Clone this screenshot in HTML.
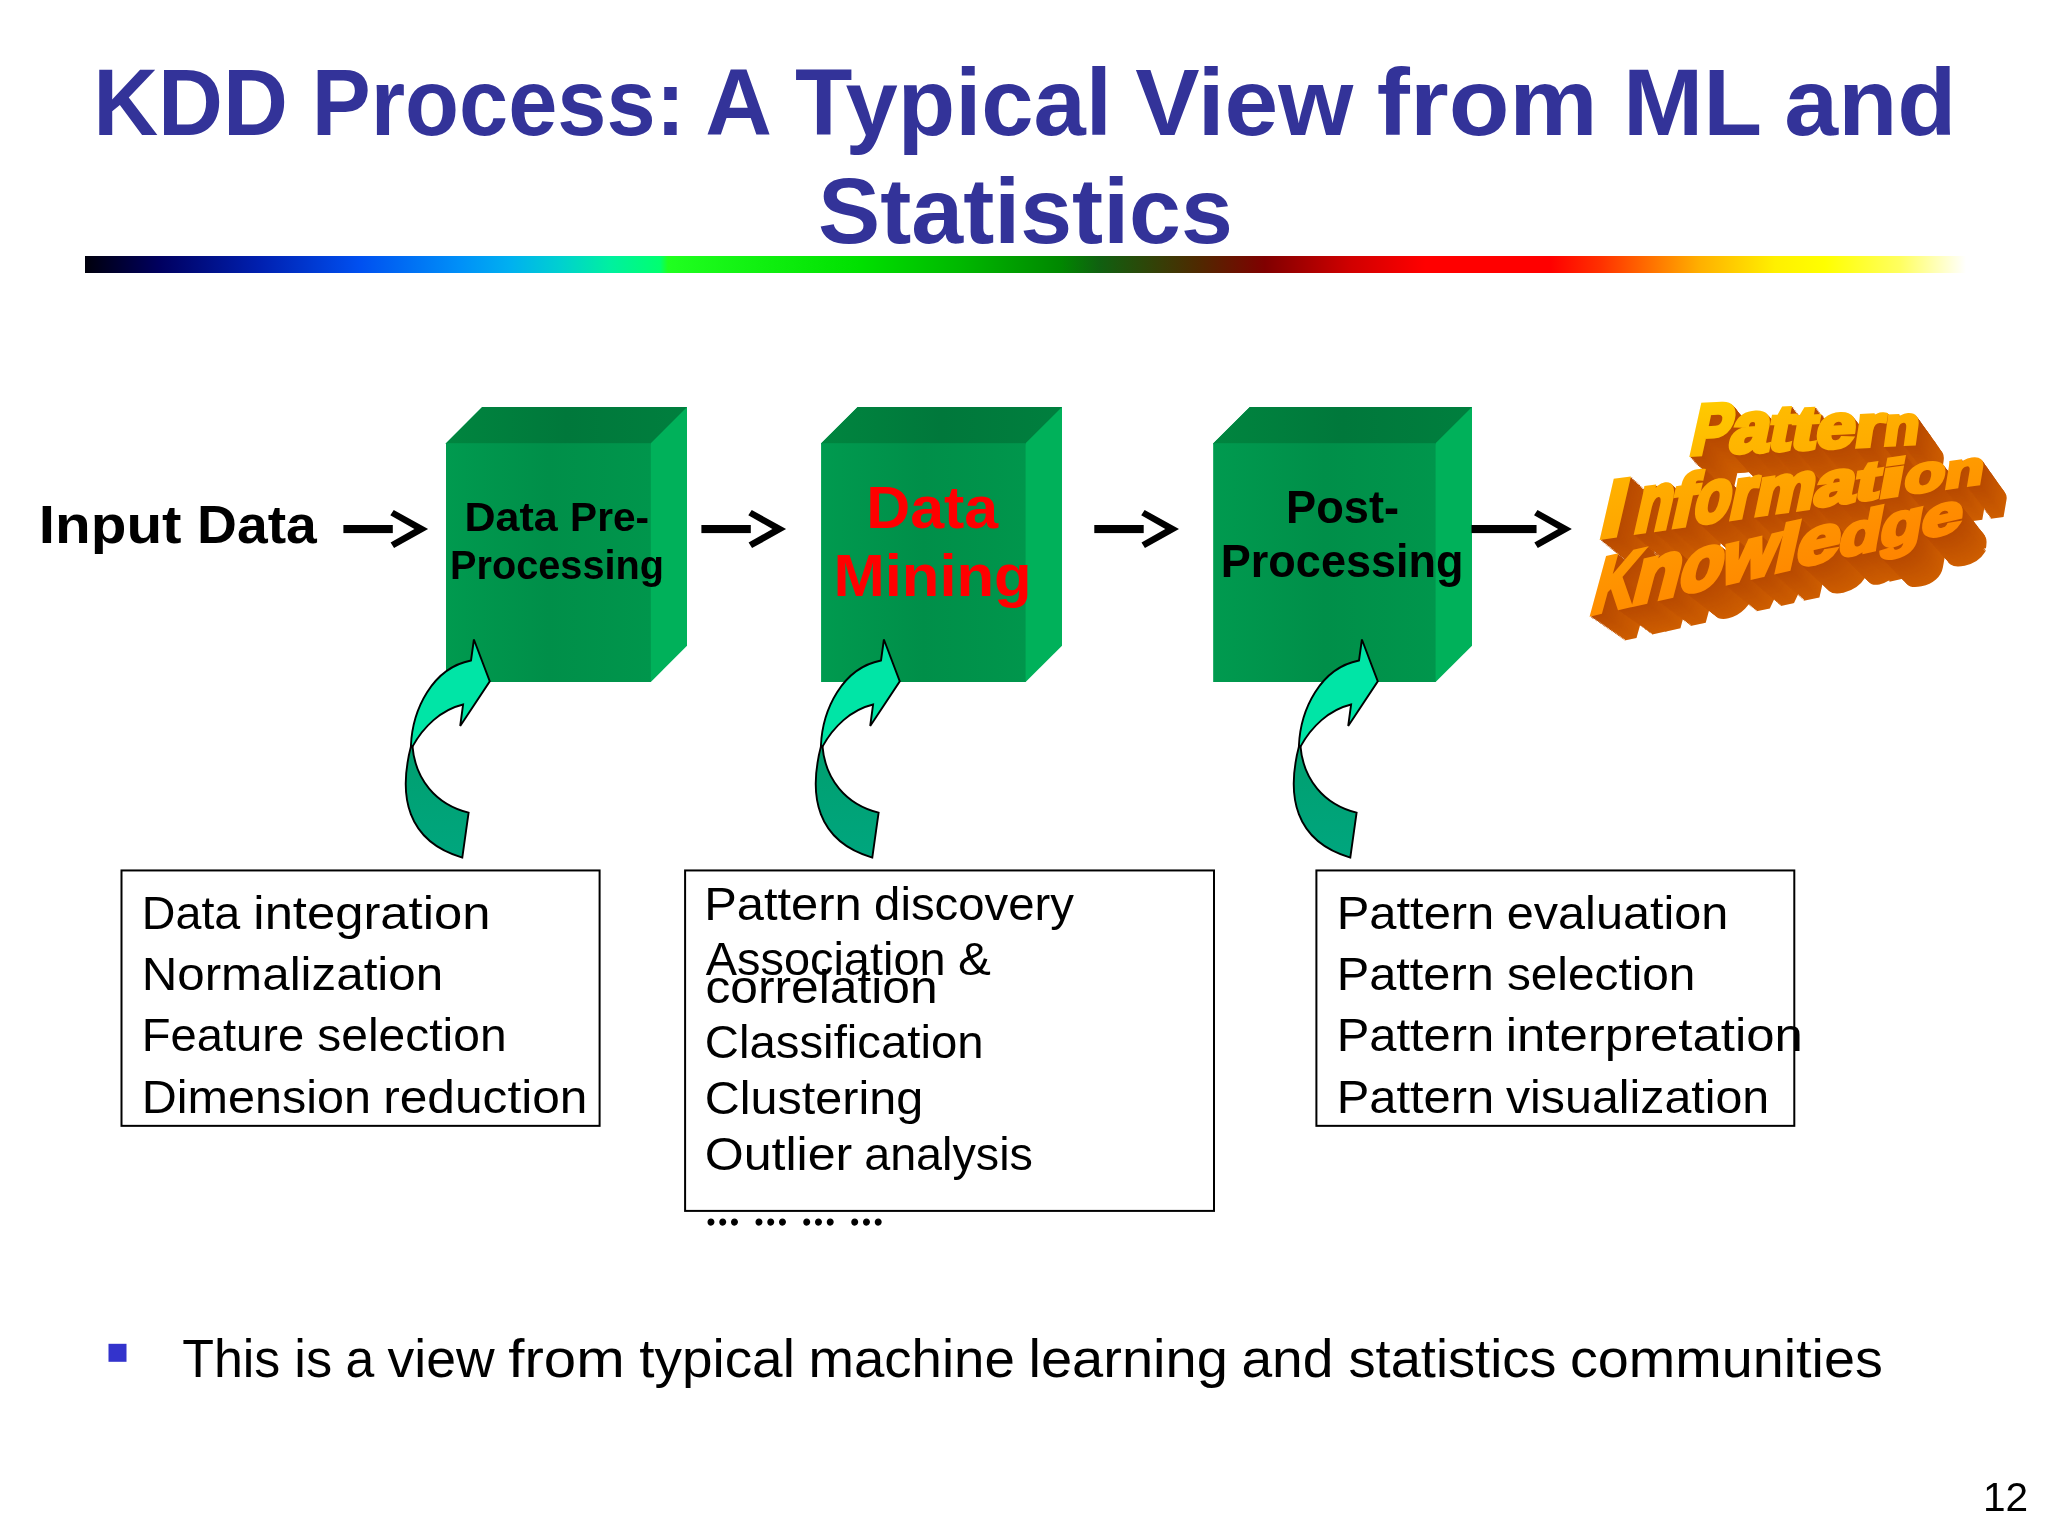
<!DOCTYPE html>
<html lang="en"><head><meta charset="utf-8"><title>KDD Process: A Typical View from ML and Statistics</title>
<style>html,body{margin:0;padding:0;background:#fff;}body{width:2048px;height:1536px;position:relative;overflow:hidden;font-family:"Liberation Sans",sans-serif;}#main{position:absolute;left:0;top:0;display:block;will-change:transform;}</style></head>
<body>
<svg id="main" width="2048" height="1536" viewBox="0 0 2048 1536" font-family="&quot;Liberation Sans&quot;, sans-serif">
<defs><linearGradient id="rb" gradientUnits="userSpaceOnUse" x1="85" y1="0" x2="1966" y2="0"><stop offset="0.0000" stop-color="#00000c"/><stop offset="0.0399" stop-color="#000060"/><stop offset="0.0930" stop-color="#0020b0"/><stop offset="0.1462" stop-color="#0050f0"/><stop offset="0.1994" stop-color="#0090f8"/><stop offset="0.2259" stop-color="#00b0f0"/><stop offset="0.2525" stop-color="#00d0d0"/><stop offset="0.2791" stop-color="#00f0a0"/><stop offset="0.3057" stop-color="#00ff70"/><stop offset="0.3099" stop-color="#20ff20"/><stop offset="0.3589" stop-color="#10f010"/><stop offset="0.4120" stop-color="#00e000"/><stop offset="0.4652" stop-color="#00b800"/><stop offset="0.5183" stop-color="#008800"/><stop offset="0.5396" stop-color="#106010"/><stop offset="0.5928" stop-color="#502800"/><stop offset="0.6273" stop-color="#800000"/><stop offset="0.6725" stop-color="#d00000"/><stop offset="0.7124" stop-color="#ff0000"/><stop offset="0.7788" stop-color="#ff0000"/><stop offset="0.8054" stop-color="#ff3000"/><stop offset="0.8320" stop-color="#ff7000"/><stop offset="0.8586" stop-color="#ffb000"/><stop offset="0.8985" stop-color="#fff000"/><stop offset="0.9250" stop-color="#ffff00"/><stop offset="0.9649" stop-color="#ffff60"/><stop offset="1.0000" stop-color="#ffffff"/></linearGradient><linearGradient id="cf0" gradientUnits="userSpaceOnUse" x1="446.0" y1="0" x2="650.8" y2="0"><stop offset="0" stop-color="#009a4f"/><stop offset="0.5" stop-color="#008f49"/><stop offset="1" stop-color="#00964c"/></linearGradient><linearGradient id="ct0" gradientUnits="userSpaceOnUse" x1="446.0" y1="0" x2="687.0" y2="0"><stop offset="0" stop-color="#00853f"/><stop offset="0.5" stop-color="#00783b"/><stop offset="1" stop-color="#007f3e"/></linearGradient><linearGradient id="cf1" gradientUnits="userSpaceOnUse" x1="821.25" y1="0" x2="1025.6" y2="0"><stop offset="0" stop-color="#009a4f"/><stop offset="0.5" stop-color="#008f49"/><stop offset="1" stop-color="#00964c"/></linearGradient><linearGradient id="ct1" gradientUnits="userSpaceOnUse" x1="821.25" y1="0" x2="1062.0" y2="0"><stop offset="0" stop-color="#00853f"/><stop offset="0.5" stop-color="#00783b"/><stop offset="1" stop-color="#007f3e"/></linearGradient><linearGradient id="cf2" gradientUnits="userSpaceOnUse" x1="1213.4" y1="0" x2="1435.6" y2="0"><stop offset="0" stop-color="#009a4f"/><stop offset="0.5" stop-color="#008f49"/><stop offset="1" stop-color="#00964c"/></linearGradient><linearGradient id="ct2" gradientUnits="userSpaceOnUse" x1="1213.4" y1="0" x2="1472.0" y2="0"><stop offset="0" stop-color="#00853f"/><stop offset="0.5" stop-color="#00783b"/><stop offset="1" stop-color="#007f3e"/></linearGradient><linearGradient id="cvl" gradientUnits="userSpaceOnUse" x1="0" y1="746" x2="0" y2="858"><stop offset="0" stop-color="#009f6f"/><stop offset="1" stop-color="#00a67e"/></linearGradient><linearGradient id="wl0" x1="0" y1="0" x2="0" y2="1"><stop offset="0" stop-color="rgb(255,206,0)"/><stop offset="1" stop-color="rgb(255,180,0)"/></linearGradient><linearGradient id="wl1" x1="0" y1="0" x2="0" y2="1"><stop offset="0" stop-color="rgb(255,193,0)"/><stop offset="1" stop-color="rgb(255,177,0)"/></linearGradient><linearGradient id="wl2" x1="0" y1="0" x2="0" y2="1"><stop offset="0" stop-color="rgb(255,190,0)"/><stop offset="1" stop-color="rgb(255,175,0)"/></linearGradient><linearGradient id="wl3" x1="0" y1="0" x2="0" y2="1"><stop offset="0" stop-color="rgb(255,188,0)"/><stop offset="1" stop-color="rgb(255,173,0)"/></linearGradient><linearGradient id="wl4" x1="0" y1="0" x2="0" y2="1"><stop offset="0" stop-color="rgb(255,185,0)"/><stop offset="1" stop-color="rgb(255,171,0)"/></linearGradient><linearGradient id="wl5" x1="0" y1="0" x2="0" y2="1"><stop offset="0" stop-color="rgb(255,182,0)"/><stop offset="1" stop-color="rgb(255,169,0)"/></linearGradient><linearGradient id="wl6" x1="0" y1="0" x2="0" y2="1"><stop offset="0" stop-color="rgb(255,178,0)"/><stop offset="1" stop-color="rgb(255,166,0)"/></linearGradient><linearGradient id="wl7" x1="0" y1="0" x2="0" y2="1"><stop offset="0" stop-color="rgb(255,181,0)"/><stop offset="1" stop-color="rgb(255,162,0)"/></linearGradient><linearGradient id="wl8" x1="0" y1="0" x2="0" y2="1"><stop offset="0" stop-color="rgb(255,178,0)"/><stop offset="1" stop-color="rgb(255,160,0)"/></linearGradient><linearGradient id="wl9" x1="0" y1="0" x2="0" y2="1"><stop offset="0" stop-color="rgb(255,176,0)"/><stop offset="1" stop-color="rgb(255,159,0)"/></linearGradient><linearGradient id="wl10" x1="0" y1="0" x2="0" y2="1"><stop offset="0" stop-color="rgb(255,174,0)"/><stop offset="1" stop-color="rgb(255,158,0)"/></linearGradient><linearGradient id="wl11" x1="0" y1="0" x2="0" y2="1"><stop offset="0" stop-color="rgb(255,172,0)"/><stop offset="1" stop-color="rgb(255,156,0)"/></linearGradient><linearGradient id="wl12" x1="0" y1="0" x2="0" y2="1"><stop offset="0" stop-color="rgb(255,170,0)"/><stop offset="1" stop-color="rgb(255,155,0)"/></linearGradient><linearGradient id="wl13" x1="0" y1="0" x2="0" y2="1"><stop offset="0" stop-color="rgb(255,166,0)"/><stop offset="1" stop-color="rgb(255,152,0)"/></linearGradient><linearGradient id="wl14" x1="0" y1="0" x2="0" y2="1"><stop offset="0" stop-color="rgb(255,164,0)"/><stop offset="1" stop-color="rgb(255,151,0)"/></linearGradient><linearGradient id="wl15" x1="0" y1="0" x2="0" y2="1"><stop offset="0" stop-color="rgb(255,162,0)"/><stop offset="1" stop-color="rgb(255,150,0)"/></linearGradient><linearGradient id="wl16" x1="0" y1="0" x2="0" y2="1"><stop offset="0" stop-color="rgb(255,160,0)"/><stop offset="1" stop-color="rgb(255,149,0)"/></linearGradient><linearGradient id="wl17" x1="0" y1="0" x2="0" y2="1"><stop offset="0" stop-color="rgb(255,158,0)"/><stop offset="1" stop-color="rgb(255,147,0)"/></linearGradient><linearGradient id="wl18" x1="0" y1="0" x2="0" y2="1"><stop offset="0" stop-color="rgb(255,156,0)"/><stop offset="1" stop-color="rgb(255,138,0)"/></linearGradient><linearGradient id="wl19" x1="0" y1="0" x2="0" y2="1"><stop offset="0" stop-color="rgb(255,155,0)"/><stop offset="1" stop-color="rgb(255,137,0)"/></linearGradient><linearGradient id="wl20" x1="0" y1="0" x2="0" y2="1"><stop offset="0" stop-color="rgb(255,153,0)"/><stop offset="1" stop-color="rgb(255,136,0)"/></linearGradient><linearGradient id="wl21" x1="0" y1="0" x2="0" y2="1"><stop offset="0" stop-color="rgb(255,152,0)"/><stop offset="1" stop-color="rgb(255,136,0)"/></linearGradient><linearGradient id="wl22" x1="0" y1="0" x2="0" y2="1"><stop offset="0" stop-color="rgb(255,151,0)"/><stop offset="1" stop-color="rgb(255,135,0)"/></linearGradient><linearGradient id="wl23" x1="0" y1="0" x2="0" y2="1"><stop offset="0" stop-color="rgb(255,150,0)"/><stop offset="1" stop-color="rgb(255,135,0)"/></linearGradient><linearGradient id="wl24" x1="0" y1="0" x2="0" y2="1"><stop offset="0" stop-color="rgb(255,148,0)"/><stop offset="1" stop-color="rgb(255,134,0)"/></linearGradient><linearGradient id="wl25" x1="0" y1="0" x2="0" y2="1"><stop offset="0" stop-color="rgb(255,147,0)"/><stop offset="1" stop-color="rgb(255,133,0)"/></linearGradient><linearGradient id="wl26" x1="0" y1="0" x2="0" y2="1"><stop offset="0" stop-color="rgb(255,146,0)"/><stop offset="1" stop-color="rgb(255,133,0)"/></linearGradient><g id="waS"><text transform="matrix(0.5921,-0.0279,-0.1584,0.7160,1687.96,454.50)">P</text><text transform="matrix(0.7060,-0.0333,-0.1498,0.7204,1727.14,452.65)">a</text><text transform="matrix(0.6758,-0.0319,-0.1257,0.6397,1766.49,450.79)">t</text><text transform="matrix(0.7516,-0.0354,-0.1146,0.6139,1788.78,449.74)">t</text><text transform="matrix(0.6978,-0.0329,-0.1067,0.6198,1813.96,448.55)">e</text><text transform="matrix(0.7435,-0.0351,-0.0899,0.5805,1852.64,446.73)">r</text><text transform="matrix(0.5827,-0.0275,-0.0738,0.5430,1882.02,445.35)">n</text><text transform="matrix(0.8014,-0.1129,-0.1865,0.8068,1597.86,537.45)">I</text><text transform="matrix(0.5907,-0.0832,-0.1859,0.8199,1632.22,532.61)">n</text><text transform="matrix(0.6917,-0.0974,-0.1645,0.7368,1668.03,527.57)">f</text><text transform="matrix(0.5907,-0.0832,-0.1661,0.7569,1691.34,524.28)">o</text><text transform="matrix(0.6412,-0.0903,-0.1559,0.7243,1727.29,519.22)">r</text><text transform="matrix(0.6735,-0.0948,-0.1417,0.6791,1752.15,515.72)">m</text><text transform="matrix(0.7386,-0.1040,-0.1248,0.6253,1811.85,507.31)">a</text><text transform="matrix(0.7262,-0.1023,-0.1065,0.5519,1852.96,501.52)">t</text><text transform="matrix(0.8981,-0.1265,-0.0988,0.5274,1876.68,498.18)">i</text><text transform="matrix(0.6662,-0.0938,-0.0947,0.5293,1902.27,494.58)">o</text><text transform="matrix(0.6410,-0.0903,-0.0814,0.4867,1943.03,488.84)">n</text><text transform="matrix(0.5750,-0.1302,-0.2183,0.8010,1588.61,614.30)">K</text><text transform="matrix(0.7620,-0.1725,-0.2140,0.8187,1629.62,605.01)">n</text><text transform="matrix(0.6962,-0.1576,-0.1943,0.7798,1676.35,594.43)">o</text><text transform="matrix(0.6874,-0.1556,-0.1730,0.7379,1718.90,584.80)">w</text><text transform="matrix(0.7834,-0.1774,-0.1460,0.6590,1772.10,572.75)">l</text><text transform="matrix(0.7660,-0.1734,-0.1420,0.6770,1793.91,567.81)">e</text><text transform="matrix(0.6798,-0.1539,-0.1152,0.5984,1836.75,558.11)">d</text><text transform="matrix(0.6798,-0.1539,-0.1049,0.6041,1878.27,548.71)">g</text><text transform="matrix(0.7299,-0.1652,-0.0866,0.5682,1919.66,539.34)">e</text></g></defs>
<rect x="85" y="256" width="1881" height="17" fill="url(#rb)"/>
<polygon points="446.0,443.2 482.20000000000005,407.0 687.0,407.0 687.0,645.8 650.8,682.0 446.0,682.0" fill="#00b15a"/><polygon points="446.0,444.2 446.0,443.2 482.20000000000005,407.0 687.0,407.0 650.8,443.2 650.8,444.2" fill="url(#ct0)"/><rect x="446.0" y="443.2" width="204.79999999999995" height="238.8" fill="url(#cf0)"/><polygon points="821.25,443.2 857.6500000000001,407.0 1062.0,407.0 1062.0,645.8 1025.6,682.0 821.25,682.0" fill="#00b15a"/><polygon points="821.25,444.2 821.25,443.2 857.6500000000001,407.0 1062.0,407.0 1025.6,443.2 1025.6,444.2" fill="url(#ct1)"/><rect x="821.25" y="443.2" width="204.3499999999999" height="238.8" fill="url(#cf1)"/><polygon points="1213.4,443.2 1249.8000000000002,407.0 1472.0,407.0 1472.0,645.8 1435.6,682.0 1213.4,682.0" fill="#00b15a"/><polygon points="1213.4,444.2 1213.4,443.2 1249.8000000000002,407.0 1472.0,407.0 1435.6,443.2 1435.6,444.2" fill="url(#ct2)"/><rect x="1213.4" y="443.2" width="222.19999999999982" height="238.8" fill="url(#cf2)"/>
<g transform="translate(0,0)"><rect x="343.4" y="525" width="49.400000000000034" height="8.1" fill="#000"/><polygon points="393.75,510 428.1,529.05 394.05,548.1 390.6,542.5 414.4,529.05 390.3,515.3" fill="#000"/></g><g transform="translate(358.0,0)"><rect x="343.4" y="525" width="49.400000000000034" height="8.1" fill="#000"/><polygon points="393.75,510 428.1,529.05 394.05,548.1 390.6,542.5 414.4,529.05 390.3,515.3" fill="#000"/></g><g transform="translate(750.9,0)"><rect x="343.4" y="525" width="49.400000000000034" height="8.1" fill="#000"/><polygon points="393.75,510 428.1,529.05 394.05,548.1 390.6,542.5 414.4,529.05 390.3,515.3" fill="#000"/></g><g transform="translate(1143.75,0)"><rect x="327.75" y="525" width="65.05000000000001" height="8.1" fill="#000"/><polygon points="393.75,510 428.1,529.05 394.05,548.1 390.6,542.5 414.4,529.05 390.3,515.3" fill="#000"/></g>
<g transform="translate(0,0)" stroke="#000" stroke-width="1.9" stroke-linejoin="miter"><path d="M411.3,745.1 C397.9,795.7 406.5,841.2 462.3,857.6 L468.6,812.6 C435.7,804.5 415,779 412.4,745.6 Z" fill="url(#cvl)"/><path d="M471,660.5 L473.9,639.5 L489.8,681.4 L460.2,726 L463.1,704.5 C440.9,709.8 423.3,726.9 412.6,746.4 L410.9,745.9 C412.4,709.8 432.2,668 471,660.5 Z" fill="#00e5a6"/></g><g transform="translate(410,0)" stroke="#000" stroke-width="1.9" stroke-linejoin="miter"><path d="M411.3,745.1 C397.9,795.7 406.5,841.2 462.3,857.6 L468.6,812.6 C435.7,804.5 415,779 412.4,745.6 Z" fill="url(#cvl)"/><path d="M471,660.5 L473.9,639.5 L489.8,681.4 L460.2,726 L463.1,704.5 C440.9,709.8 423.3,726.9 412.6,746.4 L410.9,745.9 C412.4,709.8 432.2,668 471,660.5 Z" fill="#00e5a6"/></g><g transform="translate(888,0)" stroke="#000" stroke-width="1.9" stroke-linejoin="miter"><path d="M411.3,745.1 C397.9,795.7 406.5,841.2 462.3,857.6 L468.6,812.6 C435.7,804.5 415,779 412.4,745.6 Z" fill="url(#cvl)"/><path d="M471,660.5 L473.9,639.5 L489.8,681.4 L460.2,726 L463.1,704.5 C440.9,709.8 423.3,726.9 412.6,746.4 L410.9,745.9 C412.4,709.8 432.2,668 471,660.5 Z" fill="#00e5a6"/></g>
<rect x="121.5" y="870.45" width="478.1" height="255.39999999999986" fill="none" stroke="#000" stroke-width="2"/><rect x="685.1" y="870.45" width="528.9" height="340.45000000000005" fill="none" stroke="#000" stroke-width="2"/><rect x="1316.4" y="870.45" width="477.89999999999986" height="255.39999999999986" fill="none" stroke="#000" stroke-width="2"/>
<rect x="108.5" y="1343.8" width="18" height="18" fill="#3333cc"/>
<text y="135" font-size="94.26" font-weight="bold" fill="#333399" lengthAdjust="spacingAndGlyphs" xml:space="preserve"><tspan x="93.13" textLength="194.75" lengthAdjust="spacingAndGlyphs">KDD</tspan> <tspan x="311.77" textLength="373.31" lengthAdjust="spacingAndGlyphs">Process:</tspan> <tspan x="705.15" textLength="63.33" lengthAdjust="spacingAndGlyphs">A</tspan> <tspan x="795.07" textLength="316.9" lengthAdjust="spacingAndGlyphs">Typical</tspan> <tspan x="1135.19" textLength="217.99" lengthAdjust="spacingAndGlyphs">View</tspan> <tspan x="1376.86" textLength="220.88" lengthAdjust="spacingAndGlyphs">from</tspan> <tspan x="1622.91" textLength="137.46" lengthAdjust="spacingAndGlyphs">ML</tspan> <tspan x="1784.31" textLength="172.15" lengthAdjust="spacingAndGlyphs">and</tspan></text>
<text y="243" font-size="93.56" font-weight="bold" fill="#333399" lengthAdjust="spacingAndGlyphs" xml:space="preserve"><tspan x="818.04" textLength="414.8" lengthAdjust="spacingAndGlyphs">Statistics</tspan></text>
<text y="543.25" font-size="53.16" font-weight="bold" fill="#000" lengthAdjust="spacingAndGlyphs" xml:space="preserve"><tspan x="38.85" textLength="142.64" lengthAdjust="spacingAndGlyphs">Input</tspan> <tspan x="197.07" textLength="119.76" lengthAdjust="spacingAndGlyphs">Data</tspan></text>
<text y="531.25" font-size="41.37" font-weight="bold" fill="#000" lengthAdjust="spacingAndGlyphs" xml:space="preserve"><tspan x="464.56" textLength="93.21" lengthAdjust="spacingAndGlyphs">Data</tspan> <tspan x="570.11" textLength="78.89" lengthAdjust="spacingAndGlyphs">Pre-</tspan></text>
<text y="579.4" font-size="41.11" font-weight="bold" fill="#000" lengthAdjust="spacingAndGlyphs" xml:space="preserve"><tspan x="450.02" textLength="213.95" lengthAdjust="spacingAndGlyphs">Processing</tspan></text>
<text y="527.5" font-size="58.63" font-weight="bold" fill="#ff0000" lengthAdjust="spacingAndGlyphs" xml:space="preserve"><tspan x="866.19" textLength="132.08" lengthAdjust="spacingAndGlyphs">Data</tspan></text>
<text y="595.6" font-size="58.93" font-weight="bold" fill="#ff0000" lengthAdjust="spacingAndGlyphs" xml:space="preserve"><tspan x="833.4" textLength="198.36" lengthAdjust="spacingAndGlyphs">Mining</tspan></text>
<text y="523.2" font-size="46.51" font-weight="bold" fill="#000" lengthAdjust="spacingAndGlyphs" xml:space="preserve"><tspan x="1286.08" textLength="112.91" lengthAdjust="spacingAndGlyphs">Post-</tspan></text>
<text y="577.2" font-size="46.66" font-weight="bold" fill="#000" lengthAdjust="spacingAndGlyphs" xml:space="preserve"><tspan x="1220.79" textLength="242.79" lengthAdjust="spacingAndGlyphs">Processing</tspan></text>
<text y="928.75" font-size="46.84" font-weight="normal" fill="#000" lengthAdjust="spacingAndGlyphs" xml:space="preserve"><tspan x="141.86" textLength="98.4" lengthAdjust="spacingAndGlyphs">Data</tspan> <tspan x="253.37" textLength="237" lengthAdjust="spacingAndGlyphs">integration</tspan></text>
<text y="990" font-size="46.68" font-weight="normal" fill="#000" lengthAdjust="spacingAndGlyphs" xml:space="preserve"><tspan x="141.65" textLength="301.54" lengthAdjust="spacingAndGlyphs">Normalization</tspan></text>
<text y="1051.25" font-size="46.84" font-weight="normal" fill="#000" lengthAdjust="spacingAndGlyphs" xml:space="preserve"><tspan x="141.82" textLength="162.34" lengthAdjust="spacingAndGlyphs">Feature</tspan> <tspan x="317.23" textLength="189.42" lengthAdjust="spacingAndGlyphs">selection</tspan></text>
<text y="1112.5" font-size="46.72" font-weight="normal" fill="#000" lengthAdjust="spacingAndGlyphs" xml:space="preserve"><tspan x="141.71" textLength="229.27" lengthAdjust="spacingAndGlyphs">Dimension</tspan> <tspan x="383.24" textLength="204.23" lengthAdjust="spacingAndGlyphs">reduction</tspan></text>
<text y="920" font-size="46.7" font-weight="normal" fill="#000" lengthAdjust="spacingAndGlyphs" xml:space="preserve"><tspan x="704.18" textLength="157.45" lengthAdjust="spacingAndGlyphs">Pattern</tspan> <tspan x="874.1" textLength="199.84" lengthAdjust="spacingAndGlyphs">discovery</tspan></text>
<text y="975" font-size="46.28" font-weight="normal" fill="#000" lengthAdjust="spacingAndGlyphs" xml:space="preserve"><tspan x="705.75" textLength="239.79" lengthAdjust="spacingAndGlyphs">Association</tspan> <tspan x="958.07" textLength="32.89" lengthAdjust="spacingAndGlyphs">&amp;</tspan></text>
<text y="1002.5" font-size="46.83" font-weight="normal" fill="#000" lengthAdjust="spacingAndGlyphs" xml:space="preserve"><tspan x="705.45" textLength="232.1" lengthAdjust="spacingAndGlyphs">correlation</tspan></text>
<text y="1058.25" font-size="46.73" font-weight="normal" fill="#000" lengthAdjust="spacingAndGlyphs" xml:space="preserve"><tspan x="704.78" textLength="278.86" lengthAdjust="spacingAndGlyphs">Classification</tspan></text>
<text y="1113.75" font-size="46.82" font-weight="normal" fill="#000" lengthAdjust="spacingAndGlyphs" xml:space="preserve"><tspan x="704.73" textLength="218.46" lengthAdjust="spacingAndGlyphs">Clustering</tspan></text>
<text y="1169.5" font-size="46.72" font-weight="normal" fill="#000" lengthAdjust="spacingAndGlyphs" xml:space="preserve"><tspan x="704.65" textLength="147.63" lengthAdjust="spacingAndGlyphs">Outlier</tspan> <tspan x="864.18" textLength="168.72" lengthAdjust="spacingAndGlyphs">analysis</tspan></text>
<text y="1225.3" font-family="&quot;Liberation Serif&quot;, serif" font-size="34.9" font-weight="bold" fill="#000" stroke="#000" stroke-width="1.35" xml:space="preserve"><tspan x="705.3">…</tspan> <tspan x="753.3">…</tspan> <tspan x="801.05">…</tspan> <tspan x="849.05">…</tspan></text>
<text y="928.75" font-size="46.76" font-weight="normal" fill="#000" lengthAdjust="spacingAndGlyphs" xml:space="preserve"><tspan x="1336.68" textLength="157.64" lengthAdjust="spacingAndGlyphs">Pattern</tspan> <tspan x="1506.77" textLength="221.51" lengthAdjust="spacingAndGlyphs">evaluation</tspan></text>
<text y="990" font-size="46.59" font-weight="normal" fill="#000" lengthAdjust="spacingAndGlyphs" xml:space="preserve"><tspan x="1336.69" textLength="157.08" lengthAdjust="spacingAndGlyphs">Pattern</tspan> <tspan x="1506.95" textLength="188.43" lengthAdjust="spacingAndGlyphs">selection</tspan></text>
<text y="1051.25" font-size="46.73" font-weight="normal" fill="#000" lengthAdjust="spacingAndGlyphs" xml:space="preserve"><tspan x="1336.68" textLength="157.55" lengthAdjust="spacingAndGlyphs">Pattern</tspan> <tspan x="1505.72" textLength="297.15" lengthAdjust="spacingAndGlyphs">interpretation</tspan></text>
<text y="1112.5" font-size="46.7" font-weight="normal" fill="#000" lengthAdjust="spacingAndGlyphs" xml:space="preserve"><tspan x="1336.69" textLength="157.43" lengthAdjust="spacingAndGlyphs">Pattern</tspan> <tspan x="1505.94" textLength="263.28" lengthAdjust="spacingAndGlyphs">visualization</tspan></text>
<text y="1377" font-size="52.82" font-weight="normal" fill="#000" lengthAdjust="spacingAndGlyphs" xml:space="preserve"><tspan x="182.19" textLength="98.15" lengthAdjust="spacingAndGlyphs">This</tspan> <tspan x="294.26" textLength="37.79" lengthAdjust="spacingAndGlyphs">is</tspan> <tspan x="345.43" textLength="28.77" lengthAdjust="spacingAndGlyphs">a</tspan> <tspan x="387.54" textLength="107.03" lengthAdjust="spacingAndGlyphs">view</tspan> <tspan x="508.35" textLength="116.32" lengthAdjust="spacingAndGlyphs">from</tspan> <tspan x="639.24" textLength="155.63" lengthAdjust="spacingAndGlyphs">typical</tspan> <tspan x="808.4" textLength="206.42" lengthAdjust="spacingAndGlyphs">machine</tspan> <tspan x="1028.5" textLength="199.4" lengthAdjust="spacingAndGlyphs">learning</tspan> <tspan x="1241.44" textLength="91.99" lengthAdjust="spacingAndGlyphs">and</tspan> <tspan x="1348.44" textLength="208.06" lengthAdjust="spacingAndGlyphs">statistics</tspan> <tspan x="1569.94" textLength="312.83" lengthAdjust="spacingAndGlyphs">communities</tspan></text>
<text y="1510.75" font-size="40.69" font-weight="normal" fill="#000" lengthAdjust="spacingAndGlyphs" xml:space="preserve"><tspan x="1982.96" textLength="45.2" lengthAdjust="spacingAndGlyphs">12</tspan></text>
<g font-weight="bold" font-size="100" stroke-width="7" stroke-linejoin="miter" stroke-miterlimit="3">
<use href="#waS" transform="matrix(0.97065,0,0,0.94100,81.534,60.180)" fill="rgb(206,94,0)" stroke="rgb(206,94,0)"/>
<use href="#waS" transform="matrix(0.97178,0,0,0.94327,78.398,57.865)" fill="rgb(205,93,0)" stroke="rgb(205,93,0)"/>
<use href="#waS" transform="matrix(0.97291,0,0,0.94554,75.262,55.551)" fill="rgb(204,92,0)" stroke="rgb(204,92,0)"/>
<use href="#waS" transform="matrix(0.97404,0,0,0.94781,72.126,53.236)" fill="rgb(203,91,0)" stroke="rgb(203,91,0)"/>
<use href="#waS" transform="matrix(0.97517,0,0,0.95008,68.991,50.922)" fill="rgb(202,90,0)" stroke="rgb(202,90,0)"/>
<use href="#waS" transform="matrix(0.97629,0,0,0.95235,65.855,48.607)" fill="rgb(201,90,0)" stroke="rgb(201,90,0)"/>
<use href="#waS" transform="matrix(0.97742,0,0,0.95462,62.719,46.292)" fill="rgb(200,89,0)" stroke="rgb(200,89,0)"/>
<use href="#waS" transform="matrix(0.97855,0,0,0.95688,59.583,43.978)" fill="rgb(200,88,0)" stroke="rgb(200,88,0)"/>
<use href="#waS" transform="matrix(0.97968,0,0,0.95915,56.447,41.663)" fill="rgb(199,87,0)" stroke="rgb(199,87,0)"/>
<use href="#waS" transform="matrix(0.98081,0,0,0.96142,53.311,39.348)" fill="rgb(198,87,0)" stroke="rgb(198,87,0)"/>
<use href="#waS" transform="matrix(0.98194,0,0,0.96369,50.175,37.034)" fill="rgb(197,86,0)" stroke="rgb(197,86,0)"/>
<use href="#waS" transform="matrix(0.98307,0,0,0.96596,47.039,34.719)" fill="rgb(196,85,0)" stroke="rgb(196,85,0)"/>
<use href="#waS" transform="matrix(0.98420,0,0,0.96823,43.903,32.405)" fill="rgb(195,84,0)" stroke="rgb(195,84,0)"/>
<use href="#waS" transform="matrix(0.98533,0,0,0.97050,40.767,30.090)" fill="rgb(195,84,0)" stroke="rgb(195,84,0)"/>
<use href="#waS" transform="matrix(0.98645,0,0,0.97277,37.631,27.775)" fill="rgb(194,83,0)" stroke="rgb(194,83,0)"/>
<use href="#waS" transform="matrix(0.98758,0,0,0.97504,34.495,25.461)" fill="rgb(193,82,0)" stroke="rgb(193,82,0)"/>
<use href="#waS" transform="matrix(0.98871,0,0,0.97731,31.359,23.146)" fill="rgb(192,81,0)" stroke="rgb(192,81,0)"/>
<use href="#waS" transform="matrix(0.98984,0,0,0.97958,28.223,20.832)" fill="rgb(191,80,0)" stroke="rgb(191,80,0)"/>
<use href="#waS" transform="matrix(0.99097,0,0,0.98185,25.087,18.517)" fill="rgb(190,80,0)" stroke="rgb(190,80,0)"/>
<use href="#waS" transform="matrix(0.99210,0,0,0.98412,21.952,16.202)" fill="rgb(189,79,0)" stroke="rgb(189,79,0)"/>
<use href="#waS" transform="matrix(0.99323,0,0,0.98638,18.816,13.888)" fill="rgb(189,78,0)" stroke="rgb(189,78,0)"/>
<use href="#waS" transform="matrix(0.99436,0,0,0.98865,15.680,11.573)" fill="rgb(188,77,0)" stroke="rgb(188,77,0)"/>
<use href="#waS" transform="matrix(0.99548,0,0,0.99092,12.544,9.258)" fill="rgb(187,77,0)" stroke="rgb(187,77,0)"/>
<use href="#waS" transform="matrix(0.99661,0,0,0.99319,9.408,6.944)" fill="rgb(186,76,0)" stroke="rgb(186,76,0)"/>
<use href="#waS" transform="matrix(0.99774,0,0,0.99546,6.272,4.629)" fill="rgb(185,75,0)" stroke="rgb(185,75,0)"/>
<use href="#waS" transform="matrix(0.99887,0,0,0.99773,3.136,2.315)" fill="rgb(184,74,0)" stroke="rgb(184,74,0)"/>
<g id="waF"><text transform="matrix(0.5921,-0.0279,-0.1584,0.7160,1687.96,454.50)" fill="url(#wl0)" stroke="url(#wl0)">P</text><text transform="matrix(0.7060,-0.0333,-0.1498,0.7204,1727.14,452.65)" fill="url(#wl1)" stroke="url(#wl1)">a</text><text transform="matrix(0.6758,-0.0319,-0.1257,0.6397,1766.49,450.79)" fill="url(#wl2)" stroke="url(#wl2)">t</text><text transform="matrix(0.7516,-0.0354,-0.1146,0.6139,1788.78,449.74)" fill="url(#wl3)" stroke="url(#wl3)">t</text><text transform="matrix(0.6978,-0.0329,-0.1067,0.6198,1813.96,448.55)" fill="url(#wl4)" stroke="url(#wl4)">e</text><text transform="matrix(0.7435,-0.0351,-0.0899,0.5805,1852.64,446.73)" fill="url(#wl5)" stroke="url(#wl5)">r</text><text transform="matrix(0.5827,-0.0275,-0.0738,0.5430,1882.02,445.35)" fill="url(#wl6)" stroke="url(#wl6)">n</text><text transform="matrix(0.8014,-0.1129,-0.1865,0.8068,1597.86,537.45)" fill="url(#wl7)" stroke="url(#wl7)">I</text><text transform="matrix(0.5907,-0.0832,-0.1859,0.8199,1632.22,532.61)" fill="url(#wl8)" stroke="url(#wl8)">n</text><text transform="matrix(0.6917,-0.0974,-0.1645,0.7368,1668.03,527.57)" fill="url(#wl9)" stroke="url(#wl9)">f</text><text transform="matrix(0.5907,-0.0832,-0.1661,0.7569,1691.34,524.28)" fill="url(#wl10)" stroke="url(#wl10)">o</text><text transform="matrix(0.6412,-0.0903,-0.1559,0.7243,1727.29,519.22)" fill="url(#wl11)" stroke="url(#wl11)">r</text><text transform="matrix(0.6735,-0.0948,-0.1417,0.6791,1752.15,515.72)" fill="url(#wl12)" stroke="url(#wl12)">m</text><text transform="matrix(0.7386,-0.1040,-0.1248,0.6253,1811.85,507.31)" fill="url(#wl13)" stroke="url(#wl13)">a</text><text transform="matrix(0.7262,-0.1023,-0.1065,0.5519,1852.96,501.52)" fill="url(#wl14)" stroke="url(#wl14)">t</text><text transform="matrix(0.8981,-0.1265,-0.0988,0.5274,1876.68,498.18)" fill="url(#wl15)" stroke="url(#wl15)">i</text><text transform="matrix(0.6662,-0.0938,-0.0947,0.5293,1902.27,494.58)" fill="url(#wl16)" stroke="url(#wl16)">o</text><text transform="matrix(0.6410,-0.0903,-0.0814,0.4867,1943.03,488.84)" fill="url(#wl17)" stroke="url(#wl17)">n</text><text transform="matrix(0.5750,-0.1302,-0.2183,0.8010,1588.61,614.30)" fill="url(#wl18)" stroke="url(#wl18)">K</text><text transform="matrix(0.7620,-0.1725,-0.2140,0.8187,1629.62,605.01)" fill="url(#wl19)" stroke="url(#wl19)">n</text><text transform="matrix(0.6962,-0.1576,-0.1943,0.7798,1676.35,594.43)" fill="url(#wl20)" stroke="url(#wl20)">o</text><text transform="matrix(0.6874,-0.1556,-0.1730,0.7379,1718.90,584.80)" fill="url(#wl21)" stroke="url(#wl21)">w</text><text transform="matrix(0.7834,-0.1774,-0.1460,0.6590,1772.10,572.75)" fill="url(#wl22)" stroke="url(#wl22)">l</text><text transform="matrix(0.7660,-0.1734,-0.1420,0.6770,1793.91,567.81)" fill="url(#wl23)" stroke="url(#wl23)">e</text><text transform="matrix(0.6798,-0.1539,-0.1152,0.5984,1836.75,558.11)" fill="url(#wl24)" stroke="url(#wl24)">d</text><text transform="matrix(0.6798,-0.1539,-0.1049,0.6041,1878.27,548.71)" fill="url(#wl25)" stroke="url(#wl25)">g</text><text transform="matrix(0.7299,-0.1652,-0.0866,0.5682,1919.66,539.34)" fill="url(#wl26)" stroke="url(#wl26)">e</text></g>
</g>
</svg>
</body></html>
